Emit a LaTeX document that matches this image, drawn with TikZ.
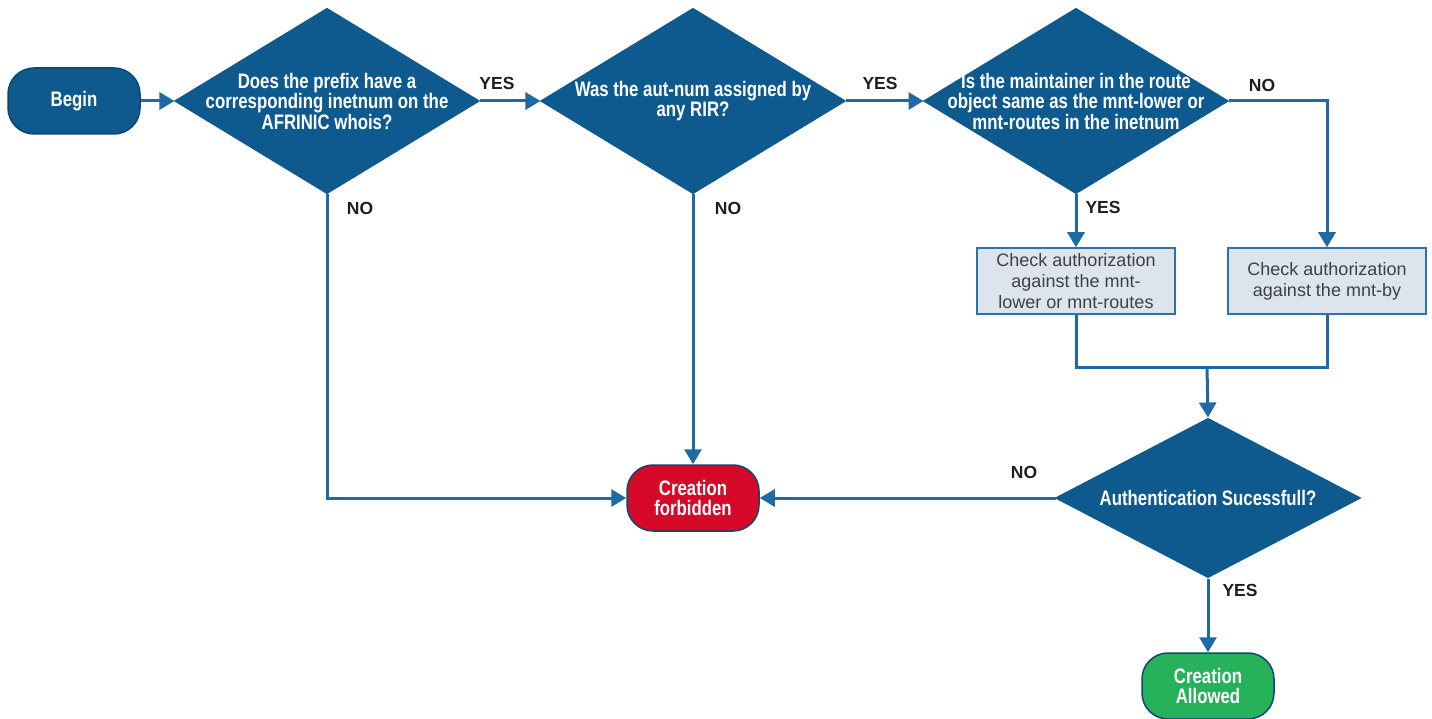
\documentclass[tikz,border=0pt]{standalone}
\usepackage{fontspec}
\setmainfont{Liberation Sans}
\newfontfamily\condfont{Liberation Sans}[FakeStretch=0.8]
\usepackage{tikz}
\usetikzlibrary{shapes.geometric,arrows.meta}
\definecolor{boxblue}{HTML}{0E5A8E}
\definecolor{lineblue}{HTML}{1F6AA5}
\definecolor{stopred}{HTML}{D60A28}
\definecolor{gogreen}{HTML}{25B25A}
\definecolor{procfill}{HTML}{DCE4EE}
\definecolor{procline}{HTML}{2A73AF}
\definecolor{labelgray}{HTML}{1E1E1E}
\tikzset{%
  decision/.style={
    diamond,
    fill=boxblue,
    draw=boxblue,
    inner sep=0pt,
    minimum width=302pt,
    minimum height=184pt
  },
  decision text/.style={
    text=white,
    align=center,
    font=\condfont\bfseries\fontsize{21}{20.5}\selectfont
  },
  terminal/.style={
    rectangle,
    rounded corners=26pt,
    draw=boxblue!80!black,
    line width=1.5pt,
    minimum width=132pt,
    minimum height=66pt,
    text=white,
    align=center,
    font=\condfont\bfseries\fontsize{21}{20}\selectfont
  },
  process/.style={
    rectangle,
    fill=procfill,
    draw=procline,
    line width=1.5pt,
    minimum width=198pt,
    minimum height=66pt,
    inner sep=0pt,
    text=labelgray!85,
    align=center,
    font=\fontsize{18}{21}\selectfont
  },
  answer/.style={
    text=labelgray,
    font=\bfseries\fontsize{17.5}{20}\selectfont
  },
}

\begin{document}
\begin{tikzpicture}[> = {Triangle[length=15pt,width=17pt]}, x=1pt, y=-1pt]
\useasboundingbox (0,0) rectangle (1432,719);
\tikzset{every path/.style={draw=lineblue, line width=3pt}}
    \node[terminal, fill=boxblue] (begin) at (74,101) {Begin};
    \node[decision] (q1) at (327,101) {};
    \node[decision] (q2) at (693,101) {};
    \node[decision] (q3) at (1076,101) {};
    \node[decision, minimum height=158pt] (q4) at (1208,498) {};
    \node[decision text] (q1t) at (q1) {Does the prefix have a\\corresponding inetnum on the\\AFRINIC whois?};
    \node[decision text] (q2t) at (q2) {Was the aut-num assigned by\\any RIR?};
    \node[decision text] (q3t) at (q3) {Is the maintainer in the route\\object same as the mnt-lower or\\mnt-routes in the inetnum};
    \node[decision text] (q4t) at (q4) {Authentication Sucessfull?};
    \node[process] (b1) at (1076,281) {Check authorization\\against the mnt-\\lower or mnt-routes};
    \node[process] (b2) at (1327,281) {Check authorization\\against the mnt-by};
    \node[terminal, fill=stopred] (forbid) at (693,498) {Creation\\forbidden};
    \node[terminal, fill=gogreen] (allow) at (1208,686) {Creation\\Allowed};
    \coordinate (join) at (1207,367);
    % connectors
    \draw[->] (begin) -- (q1);
    \draw[->] (q1) -- (q2);
    \draw[->] (q2) -- (q3);
    \draw[->] (q3.east) -| (b2.north);
    \draw[->] (q3.south) -- (b1.north);
    \draw (b1.south) |- (join);
    \draw (b2.south) |- (join);
    \draw[->] (join) -- (q4.north);
    \draw[->] (q1.south) |- (forbid.west);
    \draw[->] (q2.south) -- (forbid.north);
    \draw[->] (q4.west) -- (forbid.east);
    \draw[->] (q4.south) -- (allow.north);
    % answers
    \node[answer] (yes1) at (497,83) {YES};
    \node[answer] (yes2) at (880,83) {YES};
    \node[answer] (no3) at (1262,85) {NO};
    \node[answer] (no1) at (360,208) {NO};
    \node[answer] (no2) at (728,208) {NO};
    \node[answer] (yes3) at (1103,207) {YES};
    \node[answer] (no4) at (1024,472) {NO};
    \node[answer] (yes4) at (1240,590) {YES};
\end{tikzpicture}
\end{document}
